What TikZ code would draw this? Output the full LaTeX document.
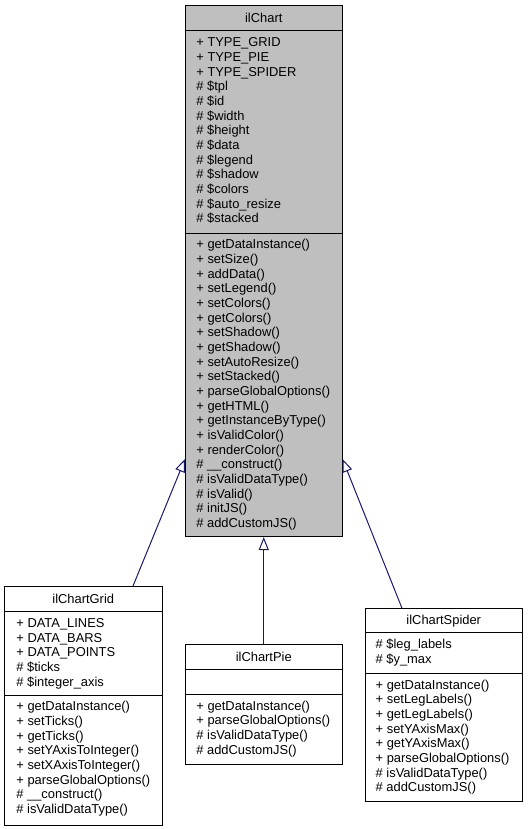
\documentclass[tikz,border=0pt]{standalone}
\usepackage{fontspec}
\setmainfont{Liberation Sans}
\usetikzlibrary{arrows.meta}
\definecolor{boxgray}{HTML}{BFBFBF}
\definecolor{edgeblue}{HTML}{191970}
\tikzset{
  classbox/.style={draw=black, line width=1pt, inner sep=0pt, anchor=north west},
  sect/.style={anchor=base west, inner sep=0pt, font=\fontsize{12.9}{14.67}\selectfont},
  ttl/.style={anchor=base, inner sep=0pt, font=\fontsize{12.9}{14.67}\selectfont},
  sepline/.style={draw=black, line width=1pt},
  inherit/.style={draw=edgeblue, line width=1pt, -{Triangle[open, length=13pt, width=10pt]}},
}
\newcommand{\classlines}[1]{\begin{tabular}[t]{@{}l@{}}#1\end{tabular}}
\begin{document}
\begin{tikzpicture}[x=1pt,y=-1pt]
\useasboundingbox (0,0) rectangle (527,829);
\fill[white] (0,0) rectangle (527,829);

% ilChart
\node[classbox, fill=boxgray, minimum width=156.5pt, minimum height=531pt] (chart) at (185,5) {};
\draw[sepline] ([yshift=-26pt]chart.north west) -- ([yshift=-26pt]chart.north east);
\draw[sepline] ([yshift=-228pt]chart.north west) -- ([yshift=-228pt]chart.north east);
\node[ttl] (chart-title) at ([yshift=-18pt]chart.north) {ilChart};
\node[sect] (chart-attr) at ([xshift=11.2pt,yshift=-41.7pt]chart.north west) {\classlines{%
+ TYPE\_GRID\\
+ TYPE\_PIE\\
+ TYPE\_SPIDER\\
\# \$tpl\\
\# \$id\\
\# \$width\\
\# \$height\\
\# \$data\\
\# \$legend\\
\# \$shadow\\
\# \$colors\\
\# \$auto\_resize\\
\# \$stacked}};
\node[sect] (chart-meth) at ([xshift=11.2pt,yshift=-243.7pt]chart.north west) {\classlines{%
+ getDataInstance()\\
+ setSize()\\
+ addData()\\
+ setLegend()\\
+ setColors()\\
+ getColors()\\
+ setShadow()\\
+ getShadow()\\
+ setAutoResize()\\
+ setStacked()\\
+ parseGlobalOptions()\\
+ getHTML()\\
+ getInstanceByType()\\
+ isValidColor()\\
+ renderColor()\\
\# \_\_construct()\\
\# isValidDataType()\\
\# isValid()\\
\# initJS()\\
\# addCustomJS()}};

% ilChartGrid
\node[classbox, minimum width=157.5pt, minimum height=239pt] (grid) at (4,586) {};
\draw[sepline] ([yshift=-25.7pt]grid.north west) -- ([yshift=-25.7pt]grid.north east);
\draw[sepline] ([yshift=-109pt]grid.north west) -- ([yshift=-109pt]grid.north east);
\node[ttl] (grid-title) at ([yshift=-17pt]grid.north) {ilChartGrid};
\node[sect] (grid-attr) at ([xshift=12.2pt,yshift=-41.4pt]grid.north west) {\classlines{%
+ DATA\_LINES\\
+ DATA\_BARS\\
+ DATA\_POINTS\\
\# \$ticks\\
\# \$integer\_axis}};
\node[sect] (grid-meth) at ([xshift=12.2pt,yshift=-124.7pt]grid.north west) {\classlines{%
+ getDataInstance()\\
+ setTicks()\\
+ getTicks()\\
+ setYAxisToInteger()\\
+ setXAxisToInteger()\\
+ parseGlobalOptions()\\
\# \_\_construct()\\
\# isValidDataType()}};

% ilChartPie
\node[classbox, minimum width=156.5pt, minimum height=120pt] (pie) at (185,644.3) {};
\draw[sepline] ([yshift=-25pt]pie.north west) -- ([yshift=-25pt]pie.north east);
\draw[sepline] ([yshift=-50pt]pie.north west) -- ([yshift=-50pt]pie.north east);
\node[ttl] (pie-title) at ([yshift=-17pt]pie.north) {ilChartPie};
\node[sect] (pie-meth) at ([xshift=11.2pt,yshift=-65.7pt]pie.north west) {\classlines{%
+ getDataInstance()\\
+ parseGlobalOptions()\\
\# isValidDataType()\\
\# addCustomJS()}};

% ilChartSpider
\node[classbox, minimum width=156.5pt, minimum height=192.7pt] (spider) at (365,608.3) {};
\draw[sepline] ([yshift=-24.4pt]spider.north west) -- ([yshift=-24.4pt]spider.north east);
\draw[sepline] ([yshift=-65pt]spider.north west) -- ([yshift=-65pt]spider.north east);
\node[ttl] (spider-title) at ([yshift=-16pt]spider.north) {ilChartSpider};
\node[sect] (spider-attr) at ([xshift=10.5pt,yshift=-40.1pt]spider.north west) {\classlines{%
\# \$leg\_labels\\
\# \$y\_max}};
\node[sect] (spider-meth) at ([xshift=10.5pt,yshift=-80.7pt]spider.north west) {\classlines{%
+ getDataInstance()\\
+ setLegLabels()\\
+ getLegLabels()\\
+ setYAxisMax()\\
+ getYAxisMax()\\
+ parseGlobalOptions()\\
\# isValidDataType()\\
\# addCustomJS()}};

% inheritance edges
\draw[inherit] ([xshift=129pt]grid.north west) -- ([yshift=78pt]chart.south west);
\draw[inherit] (pie.north) -- (chart.south);
\draw[inherit] ([xshift=37pt]spider.north west) -- ([yshift=78pt]chart.south east);
\end{tikzpicture}
\end{document}
